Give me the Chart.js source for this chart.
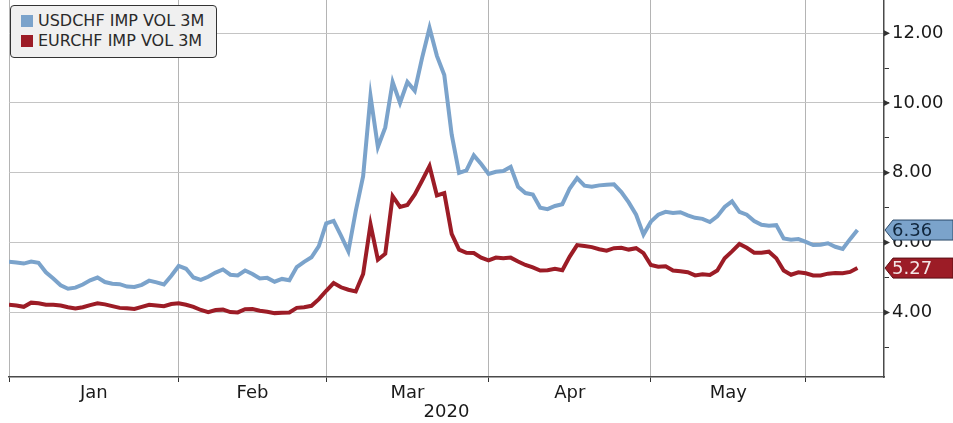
<!DOCTYPE html>
<html lang="en">
<head>
    <meta charset="UTF-8">
    <title>USDCHF vs EURCHF implied vol</title>
    <style>
        body {
            margin: 0;
            background-color: #fff;
        }
        .wrap {
            position: relative;
            width: 953px;
            height: 423px;
        }
        .legend {
            position: absolute;
            left: 10px;
            top: 5px;
            width: 205px;
            height: 51px;
            background-color: #f0f0f0;
            border: 1px solid #333;
            border-radius: 4px;
            font-family: "DejaVu Sans", sans-serif;
            font-size: 16px;
            color: #2a2a2a;
        }
        .legend div {
            position: absolute;
            left: 10px;
            height: 20px;
            line-height: 20px;
            white-space: nowrap;
        }
        .legend span {
            display: inline-block;
            width: 12px;
            height: 12px;
            margin-right: 5px;
            vertical-align: -1px;
        }
    </style>
</head>
<body>
    <div class="wrap">
        <canvas id="volChart" width="953" height="423"></canvas>
        <div class="legend" id="legend"></div>
    </div>

    <script src="https://cdn.jsdelivr.net/npm/chart.js"></script>

    <script>
        // 3M implied vol, one value per weekday from 1 Jan 2020
        const usdchf = [
            5.45, 5.43, 5.40, 5.46, 5.42, 5.15, 4.97, 4.78, 4.68, 4.71,
            4.80, 4.92, 5.00, 4.87, 4.82, 4.81, 4.74, 4.73, 4.79, 4.91,
            4.86, 4.80, 5.05, 5.33, 5.25, 5.00, 4.93, 5.02, 5.14, 5.23,
            5.08, 5.06, 5.20, 5.10, 4.97, 4.99, 4.88, 4.96, 4.92, 5.30,
            5.45, 5.58, 5.90, 6.55, 6.62, 6.20, 5.75, 6.90, 7.90, 10.20,
            8.74, 9.30, 10.60, 10.00, 10.60, 10.35, 11.30, 12.15, 11.35, 10.80,
            9.10, 8.00, 8.07, 8.50, 8.25, 7.97, 8.03, 8.05, 8.17, 7.60,
            7.42, 7.38, 7.00, 6.96, 7.05, 7.10, 7.55, 7.85, 7.63, 7.60,
            7.64, 7.66, 7.67, 7.45, 7.15, 6.80, 6.23, 6.60, 6.80, 6.88,
            6.85, 6.87, 6.78, 6.71, 6.68, 6.59, 6.75, 7.02, 7.18, 6.88,
            6.80, 6.62, 6.51, 6.48, 6.50, 6.12, 6.08, 6.10, 6.02, 5.93,
            5.94, 5.98, 5.88, 5.82, 6.10, 6.36
        ];
        const eurchf = [
            4.22, 4.20, 4.16, 4.28, 4.26, 4.22, 4.22, 4.20, 4.15, 4.11,
            4.15, 4.21, 4.26, 4.23, 4.18, 4.13, 4.12, 4.10, 4.16, 4.22,
            4.20, 4.18, 4.24, 4.26, 4.22, 4.16, 4.07, 4.01, 4.07, 4.08,
            4.01, 4.00, 4.09, 4.10, 4.05, 4.02, 3.98, 3.99, 4.00, 4.13,
            4.15, 4.19, 4.38, 4.62, 4.84, 4.72, 4.65, 4.60, 5.10, 6.52,
            5.51, 5.68, 7.33, 7.02, 7.08, 7.38, 7.78, 8.19, 7.35, 7.42,
            6.25, 5.80, 5.71, 5.70, 5.57, 5.49, 5.57, 5.55, 5.57, 5.46,
            5.36, 5.29, 5.20, 5.21, 5.25, 5.21, 5.60, 5.93, 5.90, 5.87,
            5.81, 5.77, 5.84, 5.85, 5.80, 5.84, 5.70, 5.36, 5.31, 5.32,
            5.20, 5.18, 5.15, 5.06, 5.09, 5.07, 5.20, 5.55, 5.75, 5.96,
            5.85, 5.71, 5.71, 5.74, 5.55, 5.20, 5.08, 5.15, 5.12, 5.06,
            5.06, 5.11, 5.13, 5.12, 5.16, 5.27
        ];
        const seriesNames = ['USDCHF IMP VOL 3M', 'EURCHF IMP VOL 3M'];
        const seriesColors = ['#7ba3cb', '#9c1c26'];
        const tagText = ['#10263c', '#f3e6e6'];
        const majorTicks = [4, 6, 8, 10, 12];
        const minorTicks = [3, 5, 7, 9, 11];
        const monthNames = ['Jan', 'Feb', 'Mar', 'Apr', 'May', 'Jun', 'Jul', 'Aug', 'Sep', 'Oct', 'Nov', 'Dec'];
        const yearLabel = '2020';

        // weekdays only (the chart has no gaps for weekends)
        const dates = [];
        let d = new Date(2020, 0, 1);
        while (dates.length < usdchf.length) {
            if (d.getDay() !== 0 && d.getDay() !== 6) dates.push(new Date(d));
            d.setDate(d.getDate() + 1);
        }

        const monthStarts = [];
        dates.forEach((dt, i) => {
            if (i === 0 || dt.getMonth() !== dates[i - 1].getMonth()) monthStarts.push(i);
        });
        // labels sit in the middle of each complete month
        const monthMids = [];
        for (let k = 0; k < monthStarts.length - 1; k++) {
            monthMids.push({
                value: (monthStarts[k] + monthStarts[k + 1]) / 2,
                label: monthNames[dates[monthStarts[k]].getMonth()]
            });
        }

        const toPoints = arr => arr.map((v, i) => ({ x: i, y: v }));

        const font = { family: 'DejaVu Sans', size: 18 };

        const valueTags = {
            id: 'valueTags',
            afterDraw(chart) {
                const ctx = chart.ctx;
                const ys = chart.scales.y;
                const x0 = ys.left;
                ctx.save();
                // little arrow heads on the major ticks
                ctx.fillStyle = '#333';
                majorTicks.forEach(v => {
                    const y = ys.getPixelForValue(v);
                    ctx.beginPath();
                    ctx.moveTo(x0, y - 3);
                    ctx.lineTo(x0 + 6, y);
                    ctx.lineTo(x0, y + 3);
                    ctx.closePath();
                    ctx.fill();
                });
                chart.data.datasets.forEach((ds, i) => {
                    const last = ds.data[ds.data.length - 1].y;
                    const y = ys.getPixelForValue(last);
                    const h = 10;
                    ctx.beginPath();
                    ctx.moveTo(x0 + 1, y);
                    ctx.lineTo(x0 + 9, y - h);
                    ctx.lineTo(chart.width, y - h);
                    ctx.lineTo(chart.width, y + h);
                    ctx.lineTo(x0 + 9, y + h);
                    ctx.closePath();
                    ctx.fillStyle = seriesColors[i];
                    ctx.fill();
                    ctx.lineWidth = 1;
                    ctx.strokeStyle = i === 0 ? '#2b4a6a' : '#5a0e14';
                    ctx.stroke();
                    ctx.fillStyle = tagText[i];
                    ctx.font = font.size + 'px ' + font.family;
                    ctx.textAlign = 'left';
                    ctx.textBaseline = 'middle';
                    ctx.fillText(last.toFixed(2), x0 + 8, y + 1);
                });
                ctx.restore();
            }
        };

        new Chart(document.getElementById('volChart'), {
            type: 'line',
            data: {
                datasets: seriesNames.map((name, i) => ({
                    label: name,
                    data: toPoints(i === 0 ? usdchf : eurchf),
                    borderColor: seriesColors[i],
                    backgroundColor: seriesColors[i],
                    borderWidth: 4,
                    pointRadius: 0,
                    tension: 0
                }))
            },
            options: {
                responsive: false,
                animation: false,
                layout: { padding: { left: 9, top: 0, right: 0, bottom: 0 } },
                plugins: {
                    legend: { display: false },
                    tooltip: { enabled: false }
                },
                scales: {
                    x: {
                        type: 'linear',
                        min: 0,
                        max: 118.6,
                        afterBuildTicks: scale => {
                            scale.ticks = monthStarts.map(v => ({ value: v }))
                                .concat(monthMids.map(m => ({ value: m.value })))
                                .sort((a, b) => a.value - b.value);
                        },
                        afterFit: scale => {
                            scale.height = 46;
                            scale.paddingLeft = 0;
                            scale.paddingRight = 0;
                        },
                        ticks: {
                            autoSkip: false,
                            maxRotation: 0,
                            padding: 1,
                            color: '#1a1a1a',
                            font: font,
                            callback: value => {
                                const m = monthMids.find(mm => mm.value === value);
                                return m ? m.label : '';
                            }
                        },
                        grid: {
                            color: c => c.tick && monthStarts.includes(c.tick.value) ? '#b4b4b4' : 'rgba(0,0,0,0)',
                            tickColor: c => c.tick && monthStarts.includes(c.tick.value) ? '#333' : 'rgba(0,0,0,0)',
                            tickLength: 5,
                            lineWidth: 1
                        },
                        border: { display: true, color: '#4a4a4a', width: 1.5 },
                        title: {
                            display: true,
                            text: yearLabel,
                            color: '#1a1a1a',
                            font: font,
                            padding: { top: 0, bottom: 0 }
                        }
                    },
                    y: {
                        position: 'right',
                        min: 2.15,
                        max: 12.95,
                        afterBuildTicks: scale => {
                            scale.ticks = majorTicks.concat(minorTicks)
                                .sort((a, b) => a - b)
                                .map(v => ({ value: v }));
                        },
                        afterFit: scale => {
                            scale.width = 69;
                            scale.paddingTop = 0;
                            scale.paddingBottom = 0;
                        },
                        ticks: {
                            padding: 3,
                            color: '#1a1a1a',
                            font: font,
                            callback: value => majorTicks.includes(value) ? value.toFixed(2) : ''
                        },
                        grid: {
                            color: c => c.tick && majorTicks.includes(c.tick.value) ? '#c4c4c4' : 'rgba(0,0,0,0)',
                            tickColor: '#333',
                            tickLength: 5,
                            lineWidth: 1
                        },
                        border: { display: true, color: '#4a4a4a', width: 1.5 }
                    }
                }
            },
            plugins: [valueTags]
        });

        const legendEl = document.getElementById('legend');
        seriesNames.forEach((name, i) => {
            const row = document.createElement('div');
            row.style.top = (i === 0 ? 5 : 25) + 'px';
            row.innerHTML = '<span style="background:' + seriesColors[i] + '"></span>' + name;
            legendEl.appendChild(row);
        });
    </script>
</body>
</html>
